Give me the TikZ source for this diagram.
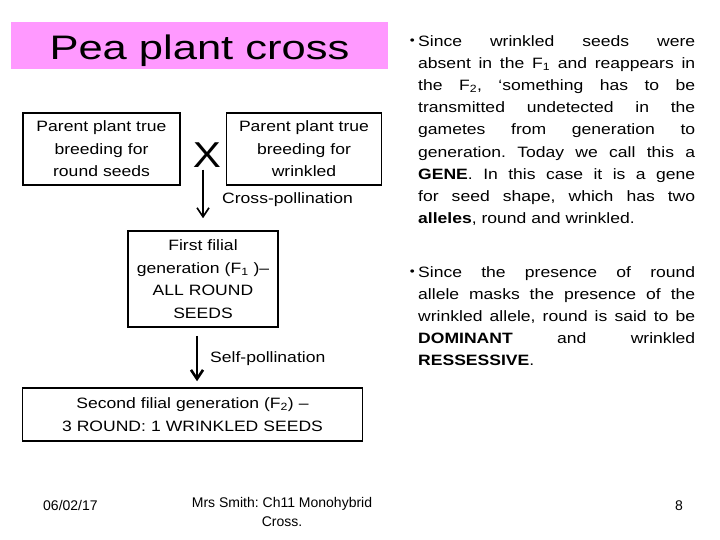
\documentclass[tikz,border=0pt]{standalone}
\usepackage{fontspec}
\setmainfont[FakeStretch=1.17]{Liberation Sans}
\newfontfamily\titlefont[FakeStretch=1.28]{Liberation Sans}
\newfontfamily\footfont{Liberation Sans}
\usepackage{xcolor}
\usepackage{tikz}
\usetikzlibrary{positioning,arrows.meta}
\definecolor{titlepink}{RGB}{255,153,255}
\frenchspacing

\begin{document}
\begin{tikzpicture}[x=1pt,y=-1pt,
    genbox/.style={draw,line width=1.5pt,align=center,inner sep=0pt,font=\fontsize{15}{22.5}\selectfont},
    flow/.style={-{Straight Barb[length=9pt,width=12pt]}},
    lbl/.style={inner sep=0pt,font=\fontsize{15}{18}\selectfont},
    para/.style={anchor=north west,inner sep=0pt,text width=277pt,align=justify,font=\fontsize{15}{22.2}\selectfont},
    foot/.style={inner sep=0pt,font=\footfont\fontsize{14}{19}\selectfont}]
    \useasboundingbox (0,0) rectangle (720,540);
    \node[fill=titlepink,minimum width=377pt,minimum height=47.5pt,inner sep=0pt,text height=30pt,text depth=2.4pt,font=\titlefont\fontsize{34}{34}\selectfont] (title) at (199.5,45.5) {Pea plant cross};

    \node[genbox,text width=157pt,minimum height=72pt] (roundp) at (101.5,149) {Parent plant true\\breeding for\\round seeds};
    \node[genbox,text width=155pt,minimum height=72pt,right=45pt of roundp] (wrinkp) {Parent plant true\\breeding for\\wrinkled};
    \node[inner sep=2pt,font=\fontsize{36}{36}\selectfont] (cross) at (207,155) {X};
    \node[genbox,text width=150pt,minimum height=96pt] (first) at (203,279) {First filial\\generation (F\textsubscript{1} )--\\ALL ROUND\\SEEDS};
    \node[genbox,text width=340pt,minimum height=53pt] (second) at (192.5,414.5) {Second filial generation (F\textsubscript{2}) --\\3 ROUND: 1 WRINKLED SEEDS};

    \draw[flow,line width=1.6pt] (cross.south -| first.north) -- ([yshift=12pt]first.north);
    \node[lbl,anchor=west] (crosslbl) at (222,200) {Cross-pollination};
    \draw[flow,line width=2.6pt] ([xshift=-6pt,yshift=-8pt]first.south) -- ([xshift=4.5pt,yshift=6pt]second.north);
    \node[lbl,anchor=west] (selflbl) at (210,359) {Self-pollination};

    % notes on the right
    \node[para] (genenote) at (418,35) {\tolerance=10000\hyphenpenalty=10000%
      \llap{\raisebox{1.5pt}{\fontsize{12}{12}\selectfont\textbullet}\hspace{3.5pt}}Since wrinkled seeds were\linebreak
      absent in the F\textsubscript{1} and reappears in\linebreak
      the F\textsubscript{2}, ‘something has to be\linebreak
      transmitted undetected in the\linebreak
      gametes from generation to\linebreak
      generation. Today we call this a\linebreak
      \textbf{GENE}. In this case it is a gene\linebreak
      for seed shape, which has two\linebreak
      \textbf{alleles}, round and wrinkled.};
    \node[para] (domnote) at (418,266) {\tolerance=10000\hyphenpenalty=10000%
      \llap{\raisebox{1.5pt}{\fontsize{12}{12}\selectfont\textbullet}\hspace{3.5pt}}Since the presence of round\linebreak
      allele masks the presence of the\linebreak
      wrinkled allele, round is said to be\linebreak
      \textbf{DOMINANT} and wrinkled\linebreak
      \textbf{RESSESSIVE}.};

    % footer
    \node[foot,anchor=base west] (date) at (43,510) {06/02/17};
    \node[foot,anchor=north,align=center] (author) at (282,497) {Mrs Smith: Ch11 Monohybrid\\Cross.};
    \node[foot,anchor=base west] (page) at (675,510) {8};
\end{tikzpicture}
\end{document}
